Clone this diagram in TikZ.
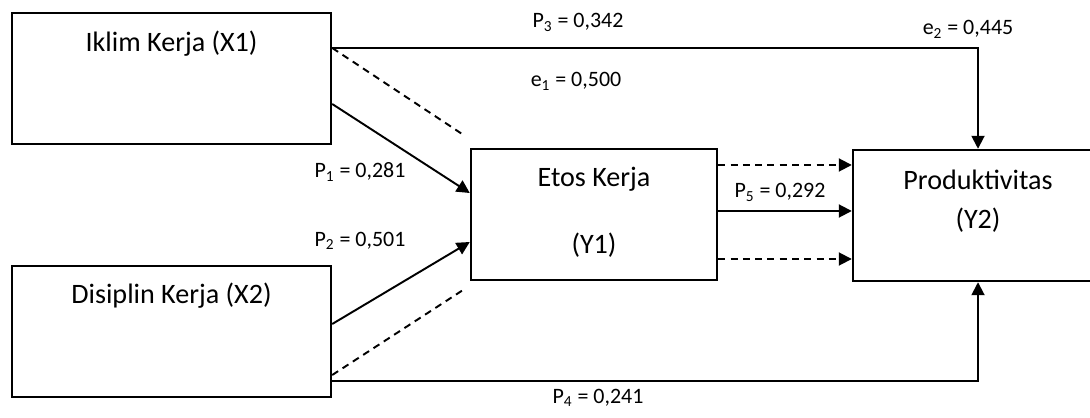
\documentclass[tikz,border=0pt]{standalone}
\usepackage{fontspec}
\setmainfont{Carlito}
\usepackage{xcolor}
\usetikzlibrary{arrows.meta}

\begin{document}
\begin{tikzpicture}[
    var/.style={draw, line width=1.4pt, minimum width=6.38cm, minimum height=2.62cm, inner sep=0pt},
    varsmall/.style={var, minimum width=4.92cm},
    vartext/.style={anchor=base, font=\fontsize{16}{19}\selectfont},
    coef/.style={anchor=base, font=\fontsize{12.5}{15}\selectfont},
    path/.style={line width=1.1pt, -{Triangle[length=0.26cm, width=0.26cm]}},
    link/.style={line width=1.1pt, dash pattern=on 4pt off 3pt}
]
\useasboundingbox (0,0) rectangle (21.8,8.34);

\node[var] (x1) at (3.43, 6.77) {};
\node[var] (x2) at (3.43, 1.71) {};
\node[varsmall] (y1) at (11.88, 4.05) {};
\node[varsmall, minimum width=5.0cm] (y2) at (19.56, 4.03) {};

\node[vartext] (tx1) at ([yshift=-0.8cm]x1.north) {Iklim Kerja (X1)};
\node[vartext] (tx2) at ([yshift=-0.78cm]x2.north) {Disiplin Kerja (X2)};
\node[vartext] (ty1a) at ([yshift=-0.78cm]y1.north) {Etos Kerja};
\node[vartext] (ty1b) at ([yshift=-2.12cm]y1.north) {(Y1)};
\node[vartext] (ty2a) at ([yshift=-0.82cm]y2.north) {Produktivitas};
\node[vartext] (ty2b) at ([yshift=-1.6cm]y2.north) {(Y2)};

\draw[path] ([yshift=0.61cm]x1.east) -| (y2.north);
\draw[path] ([yshift=-0.51cm]x1.east) -- ([yshift=0.43cm]y1.west);
\draw[link] ([yshift=0.61cm]x1.east) -- ([shift={(-0.1,0.24)}]y1.north west);

\draw[path] ([yshift=0.15cm]x2.east) -- ([yshift=-0.55cm]y1.west);
\draw[link] ([yshift=-0.87cm]x2.east) -- ([shift={(-0.08,-0.14)}]y1.south west);
\draw[path] ([yshift=-0.99cm]x2.east) -| (y2.south);

\draw[path, link] ([yshift=0.99cm]y1.east) -- ([yshift=0.99cm]y1.east -| y2.west);
\draw[path] ([yshift=0.07cm]y1.east) -- ([yshift=0.07cm]y1.east -| y2.west);
\draw[path, link] ([yshift=-0.89cm]y1.east) -- ([yshift=-0.89cm]y1.east -| y2.west);

\node[coef] (p3) at (11.56, 7.78) {P\textsubscript{3} = 0,342};
\node[coef] (e1) at (11.52, 6.60) {e\textsubscript{1} = 0,500};
\node[coef] (e2) at (19.36, 7.64) {e\textsubscript{2} = 0,445};
\node[coef] (p1) at (7.20, 4.78) {P\textsubscript{1} = 0,281};
\node[coef] (p2) at (7.20, 3.42) {P\textsubscript{2} = 0,501};
\node[coef] (p5) at (15.60, 4.38) {P\textsubscript{5} = 0,292};
\node[coef] (p4) at (11.96, 0.28) {P\textsubscript{4} = 0,241};
\end{tikzpicture}
\end{document}
